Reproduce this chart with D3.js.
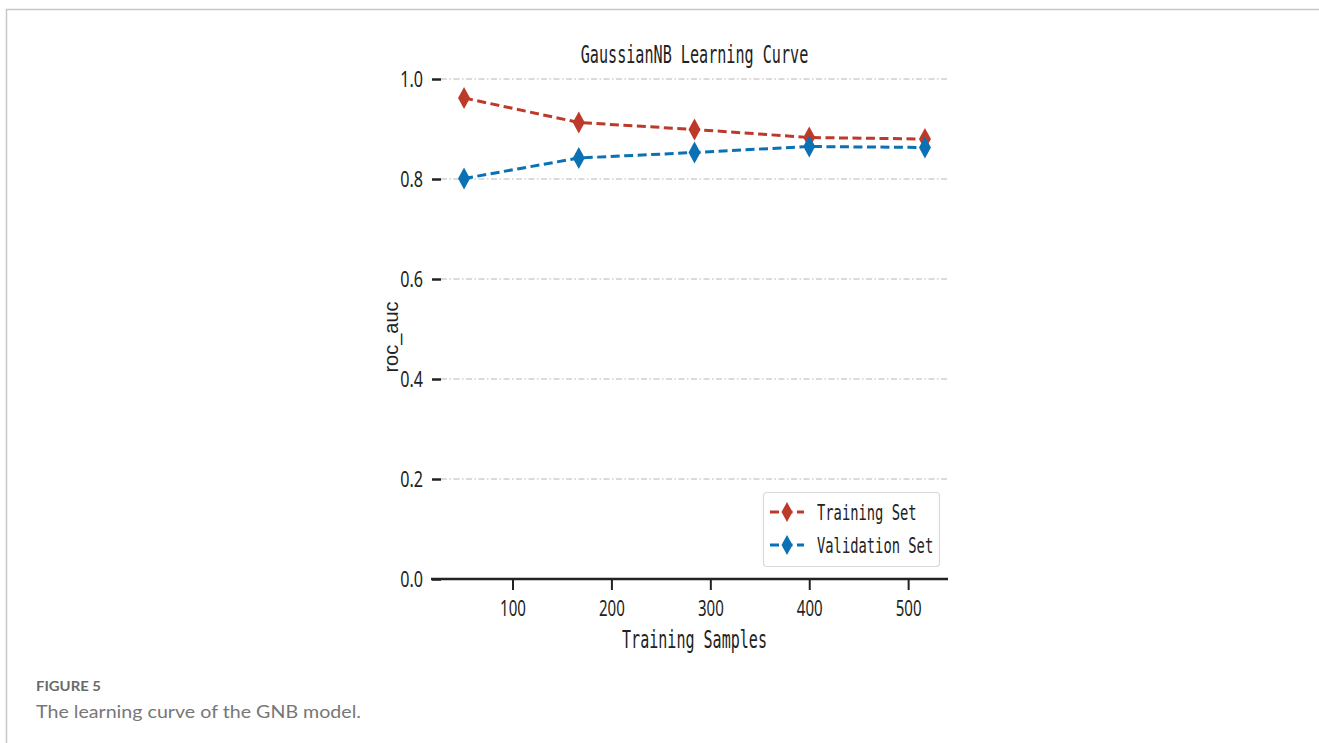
<!DOCTYPE html>
<html>
<head>
<meta charset="utf-8">
<script src="https://cdn.jsdelivr.net/npm/d3@7"></script>
<style>
  html, body { margin: 0; padding: 0; background: #fff; }
  svg { display: block; }
</style>
</head>
<body>
<svg id="fig" width="1319" height="743"></svg>
<script>
// Learning-curve data for the Gaussian Naive Bayes model
const trainSizes = [51, 167, 284, 400, 517];
const trainScores = [0.962, 0.913, 0.899, 0.883, 0.880];
const validScores = [0.801, 0.842, 0.853, 0.865, 0.863];
const xTicks = [100, 200, 300, 400, 500];
const yTicks = [0.0, 0.2, 0.4, 0.6, 0.8, 1.0];
const seriesNames = ["Training Set", "Validation Set"];
const seriesColors = ["#bd3a2a", "#0b71b5"];

const svg = d3.select("#fig");
const mono = "'DejaVu Sans Mono', 'Liberation Mono', monospace";
const digits = "'Noto Sans', 'Liberation Sans', sans-serif";

// condensed look: fixed advance per character
function squeeze(sel, perChar) {
  sel.each(function () {
    const t = d3.select(this);
    const n = t.text().length;
    t.attr("textLength", n * perChar).attr("lengthAdjust", "spacingAndGlyphs");
  });
}

// page frame
svg.append("path")
  .attr("d", "M6.5,743 L6.5,9.5 L1319,9.5")
  .attr("fill", "none").attr("stroke", "#c8c8c8").attr("stroke-width", 1.5);

const plot = { left: 441, right: 948, top: 79, bottom: 579 };
const pad = (trainSizes[4] - trainSizes[0]) * 0.05;
const x = d3.scaleLinear()
  .domain([trainSizes[0] - pad, trainSizes[4] + pad])
  .range([plot.left, plot.right]);
const y = d3.scaleLinear().domain([0, 1]).range([plot.bottom, plot.top]);

// horizontal grid
svg.append("g").selectAll("line").data(yTicks.filter(d => d > 0)).join("line")
  .attr("x1", plot.left).attr("x2", plot.right)
  .attr("y1", d => y(d)).attr("y2", d => y(d))
  .attr("stroke", "#cfcfcf").attr("stroke-width", 1.5)
  .attr("stroke-dasharray", "6,2.5,1.5,2.5");

// y axis: ticks and labels only, no spine
const yAxis = svg.append("g")
  .attr("transform", `translate(${plot.left},0)`)
  .call(d3.axisLeft(y).tickValues(yTicks).tickFormat(d3.format(".1f")).tickSize(9).tickPadding(9));
yAxis.select(".domain").remove();
yAxis.selectAll(".tick line").attr("stroke", "#222").attr("stroke-width", 2.5);
yAxis.selectAll(".tick text")
  .attr("font-family", digits).attr("font-size", 22).attr("fill", "#222")
  .attr("dy", "0.36em")
  .call(squeeze, 7.6);

// x axis
const xAxis = svg.append("g")
  .attr("transform", `translate(0,${plot.bottom})`)
  .call(d3.axisBottom(x).tickValues(xTicks).tickSize(11).tickPadding(10).tickSizeOuter(0));
xAxis.select(".domain")
  .attr("d", `M${plot.left - 10},0H${plot.right}`)
  .attr("stroke", "#222").attr("stroke-width", 2.5);
xAxis.selectAll(".tick line").attr("stroke", "#222").attr("stroke-width", 2);
xAxis.selectAll(".tick text")
  .attr("font-family", digits).attr("font-size", 22).attr("fill", "#222")
  .attr("dy", "0.72em")
  .call(squeeze, 8.6);

// title and axis labels
svg.append("text")
  .attr("x", (plot.left + plot.right) / 2).attr("y", 63)
  .attr("text-anchor", "middle")
  .attr("font-family", mono).attr("font-size", 24).attr("fill", "#222")
  .text("GaussianNB Learning Curve").call(squeeze, 9.1);

svg.append("text")
  .attr("x", (plot.left + plot.right) / 2).attr("y", 648)
  .attr("text-anchor", "middle")
  .attr("font-family", mono).attr("font-size", 24).attr("fill", "#222")
  .text("Training Samples").call(squeeze, 9.06);

svg.append("text")
  .attr("transform", "translate(398,337) rotate(-90)")
  .attr("text-anchor", "middle")
  .attr("font-family", "'Liberation Sans', Arial, sans-serif")
  .attr("font-size", 20).attr("fill", "#222")
  .text("roc_auc");

// thin diamond marker
const diamond = (w, h) => `M0,${-h / 2}L${w / 2},0L0,${h / 2}L${-w / 2},0Z`;

const line = d3.line().x(d => x(d[0])).y(d => y(d[1]));
[trainScores, validScores].forEach((scores, i) => {
  const pts = trainSizes.map((s, j) => [s, scores[j]]);
  const g = svg.append("g");
  g.append("path").datum(pts)
    .attr("d", line)
    .attr("fill", "none").attr("stroke", seriesColors[i])
    .attr("stroke-width", 3).attr("stroke-dasharray", "9,4.5");
  g.selectAll("path.mk").data(pts).join("path").attr("class", "mk")
    .attr("transform", d => `translate(${x(d[0])},${y(d[1])})`)
    .attr("d", diamond(12, 22))
    .attr("fill", seriesColors[i]);
});

// legend
const lg = svg.append("g").attr("transform", "translate(763,492)");
lg.append("rect")
  .attr("x", 0.5).attr("y", 0.5).attr("width", 176).attr("height", 74)
  .attr("rx", 3).attr("fill", "#fff").attr("stroke", "#d9d9d9").attr("stroke-width", 1.2);
seriesNames.forEach((name, i) => {
  const cy = 20 + i * 33;
  lg.append("line")
    .attr("x1", 7).attr("x2", 41).attr("y1", cy).attr("y2", cy)
    .attr("stroke", seriesColors[i]).attr("stroke-width", 3).attr("stroke-dasharray", "9,4.5");
  lg.append("path")
    .attr("transform", `translate(24,${cy})`)
    .attr("d", diamond(11, 20)).attr("fill", seriesColors[i]);
  lg.append("text")
    .attr("x", 54).attr("y", cy + 8)
    .attr("font-family", mono).attr("font-size", 21).attr("fill", "#222")
    .text(name).call(squeeze, 8.3);
});

// caption
svg.append("text")
  .attr("x", 36).attr("y", 691)
  .attr("font-family", "Lato, 'Open Sans', sans-serif").attr("font-weight", 700)
  .attr("font-size", 13).attr("fill", "#6a6a6a")
  .attr("textLength", 65).attr("lengthAdjust", "spacingAndGlyphs")
  .text("FIGURE 5");
svg.append("text")
  .attr("x", 36).attr("y", 718)
  .attr("font-family", "Lato, 'Open Sans', sans-serif")
  .attr("font-size", 16.5).attr("fill", "#777")
  .attr("textLength", 325).attr("lengthAdjust", "spacingAndGlyphs")
  .text("The learning curve of the GNB model.");
</script>
</body>
</html>
